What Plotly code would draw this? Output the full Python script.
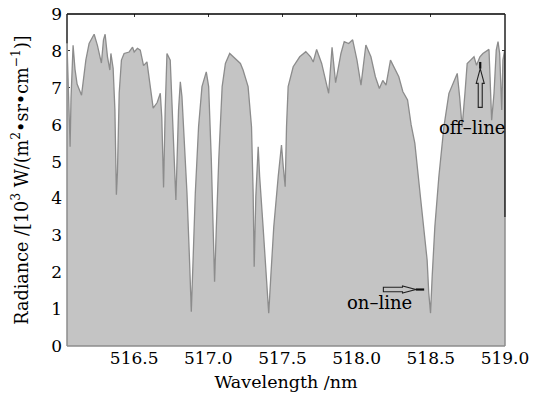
import plotly.graph_objects as go

wavelength = [516.047, 516.054, 516.061, 516.068, 516.074, 516.088, 516.101, 516.115, 516.145, 516.174,
              516.196, 516.230, 516.252, 516.279, 516.293, 516.304, 516.320, 516.336, 516.343, 516.358,
              516.370, 516.378, 516.380, 516.387, 516.399, 516.414, 516.432, 516.466, 516.489, 516.500,
              516.522, 516.541, 516.563, 516.586, 516.608, 516.628, 516.655, 516.676, 516.686, 516.698,
              516.709, 516.721, 516.743, 516.761, 516.781, 516.799, 516.811, 516.822, 516.839, 516.856,
              516.873, 516.885, 516.897, 516.912, 516.934, 516.957, 516.986, 517.002, 517.020, 517.036,
              517.042, 517.054, 517.070, 517.093, 517.115, 517.144, 517.182, 517.216, 517.234, 517.268,
              517.291, 517.302, 517.309, 517.320, 517.336, 517.346, 517.369, 517.392, 517.407, 517.421,
              517.441, 517.471, 517.493, 517.505, 517.518, 517.527, 517.538, 517.572, 517.616, 517.657,
              517.689, 517.707, 517.730, 517.764, 517.793, 517.811, 517.834, 517.858, 517.894, 517.916,
              517.946, 517.973, 518.002, 518.029, 518.062, 518.096, 518.126, 518.153, 518.176, 518.198,
              518.228, 518.254, 518.284, 518.311, 518.343, 518.367, 518.392, 518.432, 518.453, 518.475,
              518.486, 518.498, 518.509, 518.527, 518.554, 518.588, 518.622, 518.655, 518.678, 518.694,
              518.711, 518.730, 518.745, 518.768, 518.791, 518.808, 518.831, 518.851, 518.874, 518.892,
              518.899, 518.910, 518.926, 518.941, 518.953, 518.964, 518.978, 518.986, 518.997, 519.000]
radiance = [8.2, 7.3, 6.8, 5.4, 6.7, 8.15, 7.5, 7.1, 6.8, 7.75,
            8.2, 8.45, 8.15, 7.67, 8.3, 8.45, 7.84, 7.48, 7.93, 7.53,
            6.4, 4.77, 4.1, 4.7, 6.86, 7.75, 7.93, 7.97, 8.1, 7.97,
            8.07, 8.02, 7.6, 7.7, 7.03, 6.45, 6.6, 6.85, 6.2, 4.3,
            6.4, 7.93, 7.75, 5.94, 3.96, 6.4, 7.16, 6.76, 5.5, 4.14,
            2.33, 0.93, 2.33, 4.14, 5.94, 7.03, 7.43, 7.03, 5.04, 2.78,
            1.74, 3.23, 5.04, 7.03, 7.66, 7.93, 7.8, 7.66, 7.48, 7.03,
            5.94, 4.14, 2.15, 4.05, 5.4, 4.59, 3.23, 1.88, 0.89, 1.88,
            3.23, 4.59, 5.45, 4.86, 4.32, 5.94, 7.03, 7.57, 7.84, 7.98,
            7.84, 7.7, 8.04, 7.66, 7.12, 6.85, 8.1, 7.14, 7.93, 8.25,
            8.2, 8.3, 7.75, 7.07, 8.16, 7.84, 7.3, 6.98, 7.2, 7.07,
            7.75, 7.52, 7.3, 6.9, 6.67, 6.0, 5.5, 3.96, 3.23, 2.33,
            1.44, 0.89, 1.88, 3.23, 4.59, 5.94, 6.85, 7.2, 7.39, 6.76,
            5.94, 6.85, 7.66, 7.75, 7.84, 7.61, 7.84, 7.93, 7.98, 8.04,
            7.3, 6.12, 6.85, 8.02, 8.25, 7.93, 6.4, 7.75, 8.0, 3.5]

x_ticks = [516.5, 517.0, 517.5, 518.0, 518.5, 519.0]
x_ticklabels = ["516.5", "517.0", "517.5", "518.0", "518.5", "519.0"]
y_ticks = [0, 1, 2, 3, 4, 5, 6, 7, 8, 9]

x_title = "Wavelength /nm"
y_title = "Radiance /[10<sup>3</sup> W/(m<sup>2</sup>•sr•cm<sup>−1</sup>)]"
labels = ["on–line", "off–line"]
label_x = [518.152, 518.777]
label_y = [1.18, 5.91]

FONT = "DejaVu Serif"
FILL = "#c4c4c4"
LINE = "#8c8c8c"

fig = go.Figure()
fig.add_trace(go.Scatter(
    x=wavelength, y=radiance, mode="lines", fill="tozeroy",
    fillcolor=FILL, line=dict(color=LINE, width=1.3), hoverinfo="skip", showlegend=False,
))

xmin, xmax = wavelength[0], wavelength[-1]
ymin, ymax = 0, 9

shapes = []
# frame
shapes.append(dict(type="line", xref="paper", yref="paper", x0=0, x1=1, y0=1, y1=1,
                   line=dict(color="black", width=1.5)))
shapes.append(dict(type="line", xref="paper", yref="paper", x0=0, x1=1, y0=0, y1=0,
                   line=dict(color=LINE, width=1.5)))
shapes.append(dict(type="line", xref="paper", yref="y", x0=0, x1=0, y0=0, y1=radiance[0],
                   line=dict(color=LINE, width=1.5)))
shapes.append(dict(type="line", xref="paper", yref="y", x0=0, x1=0, y0=radiance[0], y1=ymax,
                   line=dict(color="#222222", width=1.5)))
shapes.append(dict(type="line", xref="paper", yref="y", x0=1, x1=1, y0=0, y1=radiance[-1],
                   line=dict(color=LINE, width=1.5)))
shapes.append(dict(type="line", xref="paper", yref="y", x0=1, x1=1, y0=radiance[-1], y1=ymax,
                   line=dict(color="#222222", width=1.5)))

# on-line hollow arrow (pointing right)
on_y = 1.531
shapes.append(dict(type="path", xref="x", yref="y",
                   path=(f"M 518.180 {on_y-0.06} L 518.309 {on_y-0.06} L 518.309 {on_y-0.095} "
                         f"L 518.399 {on_y} L 518.309 {on_y+0.095} L 518.309 {on_y+0.06} "
                         f"L 518.180 {on_y+0.06} Z"),
                   line=dict(color="#222222", width=1.1)))
shapes.append(dict(type="line", xref="x", yref="y", x0=518.399, x1=518.455, y0=on_y, y1=on_y,
                   line=dict(color="#111111", width=2.2)))

# off-line hollow arrow (pointing up)
off_x = 518.833
shapes.append(dict(type="path", xref="x", yref="y",
                   path=(f"M {off_x-0.0135} 6.47 L {off_x-0.0135} 7.12 L {off_x-0.027} 7.12 "
                         f"L {off_x} 7.52 L {off_x+0.027} 7.12 L {off_x+0.0135} 7.12 "
                         f"L {off_x+0.0135} 6.47 Z"),
                   line=dict(color="#222222", width=1.1)))
shapes.append(dict(type="line", xref="x", yref="y", x0=off_x, x1=off_x, y0=7.52, y1=7.70,
                   line=dict(color="#111111", width=2.2)))

annotations = [dict(x=lx, y=ly, xref="x", yref="y", text=t, showarrow=False,
                    xanchor="center", yanchor="middle",
                    font=dict(family=FONT, size=18, color="black"))
               for t, lx, ly in zip(labels, label_x, label_y)]

fig.update_layout(
    width=542, height=400,
    margin=dict(l=67, r=37, t=14, b=54),
    paper_bgcolor="white", plot_bgcolor="white",
    font=dict(family=FONT, size=17, color="black"),
    shapes=shapes, annotations=annotations,
    xaxis=dict(range=[xmin, xmax], tickvals=x_ticks, ticktext=x_ticklabels,
               showgrid=False, zeroline=False, showline=False, automargin=False,
               ticks="inside", ticklen=3, tickcolor="#333333", mirror="ticks",
               ticklabeloverflow="allow",
               layer="below traces",
               title=dict(text=x_title, standoff=8, font=dict(size=17.5))),
    yaxis=dict(range=[ymin, ymax], tickvals=y_ticks,
               showgrid=False, zeroline=False, showline=False, automargin=False,
               ticks="inside", ticklen=3, tickcolor="#333333", mirror="ticks",
               ticklabelstandoff=4, ticklabeloverflow="allow",
               layer="below traces",
               title=dict(text=y_title, standoff=18, font=dict(size=17.6))),
)

# remove the page's default body margin so the 542x400 figure fills the window exactly
fig.write_html("out.html",
               config={"displayModeBar": False},
               post_script="document.body.style.margin='0px';document.body.style.overflow='hidden';")
